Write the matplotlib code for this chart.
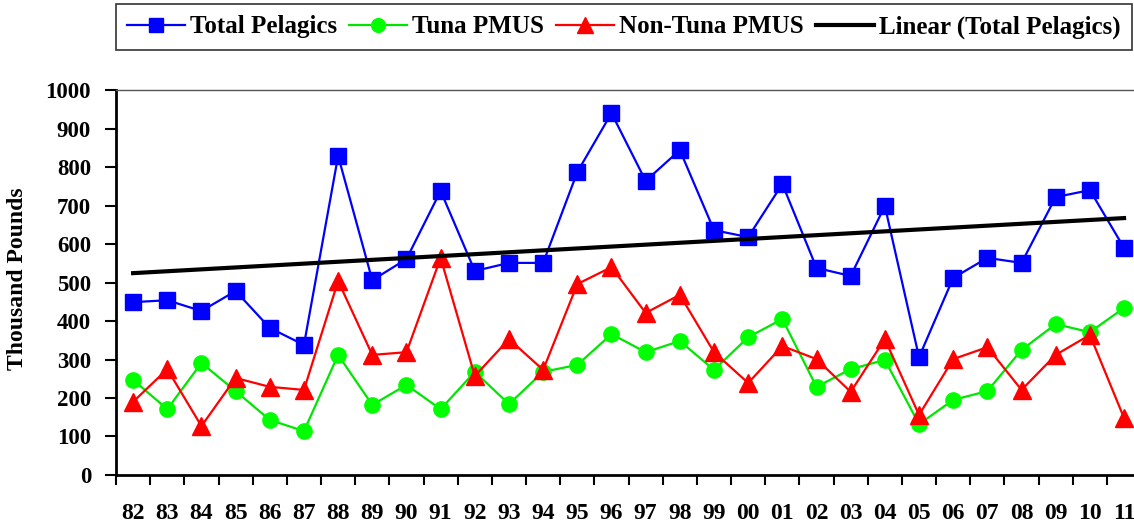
import matplotlib
matplotlib.use("Agg")
import matplotlib.pyplot as plt
import numpy as np

# years shown on the x axis
years = ['82', '83', '84', '85', '86', '87', '88', '89', '90', '91',
         '92', '93', '94', '95', '96', '97', '98', '99', '00', '01',
         '02', '03', '04', '05', '06', '07', '08', '09', '10', '11']

# landings, thousand pounds
total_pelagics = [449, 454, 426, 478, 382, 338, 829, 506, 561, 738,
                  530, 551, 551, 787, 940, 764, 844, 636, 618, 756,
                  538, 517, 699, 306, 512, 564, 551, 722, 740, 590]
tuna_pmus = [247, 171, 291, 218, 143, 114, 312, 182, 234, 171,
             268, 184, 268, 286, 366, 319, 348, 273, 358, 405,
             229, 275, 299, 132, 195, 218, 325, 392, 371, 434]
non_tuna_pmus = [190, 275, 127, 252, 229, 221, 504, 312, 319, 564,
                 257, 353, 273, 496, 540, 421, 468, 319, 239, 335,
                 301, 216, 353, 156, 301, 332, 221, 312, 364, 148]

plt.rcParams['font.family'] = ['Liberation Serif', 'DejaVu Serif']
plt.rcParams['font.weight'] = 'bold'

fig = plt.figure(figsize=(11.34, 5.23), dpi=100)
ax = fig.add_axes([0.1023, 0.0918, 0.904, 0.736])

x = np.arange(len(years))
ax.plot(x, total_pelagics, color='#0000FF', lw=1.6, marker='s', ms=11,
        label='Total Pelagics')
ax.plot(x, tuna_pmus, color='#00E600', lw=1.6, marker='o', ms=11,
        markerfacecolor='#00FF00', markeredgecolor='#00FF00', label='Tuna PMUS')
ax.plot(x, non_tuna_pmus, color='#FF0000', lw=1.6, marker='^', ms=13,
        label='Non-Tuna PMUS')

# linear trend of the total
coef = np.polyfit(x, total_pelagics, 1)
ax.plot(x, np.polyval(coef, x), color='k', lw=3, label='Linear (Total Pelagics)')

ax.set_xlim(-0.5, len(years) - 0.5)
ax.set_ylim(0, 1000)
ax.set_yticks(np.arange(0, 1001, 100))
ax.set_xticks(x)
ax.set_xticklabels(years)
ax.set_xticks(np.arange(-0.5, len(years), 1), minor=True)
ax.tick_params(axis='x', which='major', length=0, pad=20, labelsize=17)
ax.tick_params(axis='x', which='minor', length=7, width=1.5, direction='out')
ax.tick_params(axis='y', length=8, width=1.5, direction='out', labelsize=16.5, pad=10)
for lab in ax.get_xticklabels() + ax.get_yticklabels():
    lab.set_fontweight('bold')

ax.spines['left'].set_linewidth(2)
ax.spines['bottom'].set_linewidth(2)
ax.spines['top'].set_linewidth(1)
ax.spines['top'].set_color('#555555')

ax.set_ylabel('Thousand Pounds', fontsize=17, fontweight='bold')
ax.yaxis.set_label_coords(-0.086, 0.51)

leg = fig.legend(loc='upper left', bbox_to_anchor=(0.1023, 0.992),
                 ncol=4, frameon=True, fancybox=False, shadow=False,
                 prop={'weight': 'bold', 'size': 18}, handlelength=2.3,
                 markerscale=0.9, borderaxespad=0, borderpad=0.45,
                 handletextpad=0.2, columnspacing=0.5)
leg.get_frame().set_edgecolor('k')
leg.get_frame().set_linewidth(1.2)

fig.savefig('out.png', dpi=100)
